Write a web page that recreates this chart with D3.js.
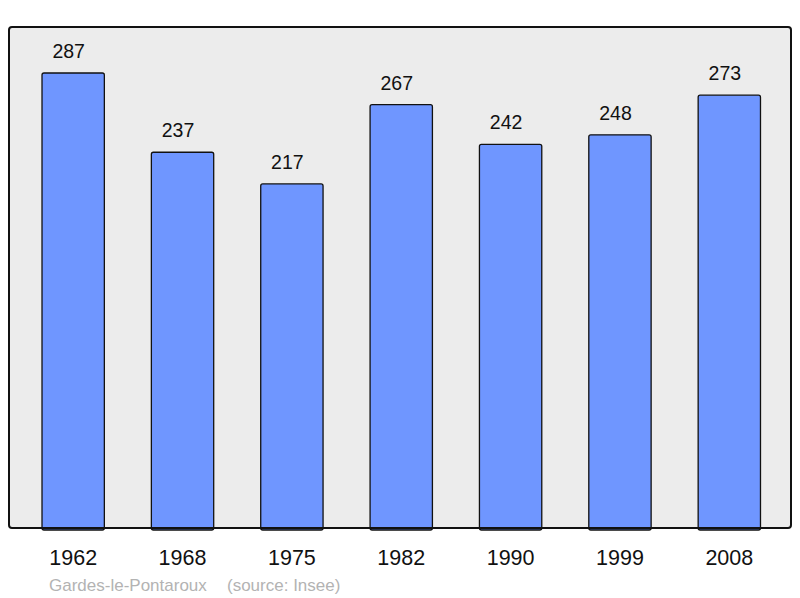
<!DOCTYPE html>
<html>
<head>
<meta charset="utf-8">
<script src="https://cdnjs.cloudflare.com/ajax/libs/d3/7.8.5/d3.min.js"></script>
<style>
  body { margin: 0; background: #fff; }
  svg text { font-family: "Liberation Sans", Arial, sans-serif; }
</style>
</head>
<body>
<div id="chart"></div>
<script>
// Data
var years       =   ["1962", "1968", "1975", "1982", "1990", "1999", "2008"];
var population  =   [287, 237, 217, 267, 242, 248, 273];
var place_name  =   "Gardes-le-Pontaroux";
var source_text =   "(source: Insee)";

// Size
var chart_width     =   800;
var chart_height    =   598;
var frame           =   { left: 9, top: 27, right: 791, bottom: 528 };

var svg             =   d3.select("#chart")
    .append("svg")
    .attr("width", chart_width)
    .attr("height", chart_height);

// Scales
var x   =   d3.scaleBand()
    .domain(years)
    .range([ 18.5, 784 ])
    .paddingInner(0.43)
    .paddingOuter(0.215);

var y   =   d3.scaleLinear()
    .domain([ 0, 316 ])
    .range([ frame.bottom, frame.top ]);

// Background frame
svg.append("rect")
    .attr("x", frame.left)
    .attr("y", frame.top)
    .attr("width", frame.right - frame.left)
    .attr("height", frame.bottom - frame.top)
    .attr("rx", 3)
    .attr("fill", "#ececec")
    .attr("stroke", "none");

// Bars
svg.selectAll("rect.bar")
    .data(population)
    .enter()
    .append("rect")
    .attr("class", "bar")
    .attr("x", function(d, i){ return x(years[i]); })
    .attr("y", function(d){ return y(d); })
    .attr("width", x.bandwidth())
    .attr("height", function(d){ return y(0) - y(d) + 2; })
    .attr("rx", 2)
    .attr("fill", "#6f96ff")
    .attr("stroke", "#111")
    .attr("stroke-width", 1.3);

// Value labels (sit a little left of bar centre, as in the original)
svg.selectAll("text.value")
    .data(population)
    .enter()
    .append("text")
    .attr("class", "value")
    .attr("x", function(d, i){ return x(years[i]) + x.bandwidth() / 2 - 4.5; })
    .attr("y", function(d){ return y(d) - 15; })
    .attr("text-anchor", "middle")
    .attr("font-size", 19.5)
    .attr("fill", "#111")
    .text(function(d){ return d; });

// Frame border on top
svg.append("rect")
    .attr("x", frame.left)
    .attr("y", frame.top)
    .attr("width", frame.right - frame.left)
    .attr("height", frame.bottom - frame.top)
    .attr("rx", 3)
    .attr("fill", "none")
    .attr("stroke", "#111")
    .attr("stroke-width", 2);

// X axis labels
var axis = svg.append("g")
    .attr("transform", "translate(0," + frame.bottom + ")")
    .call(d3.axisBottom(x).tickSize(0).tickPadding(0));

axis.select(".domain").remove();
axis.selectAll("text")
    .attr("y", 37)
    .attr("dy", 0)
    .attr("font-size", 21.5)
    .attr("font-family", "Liberation Sans, Arial, sans-serif")
    .attr("fill", "#111");

// Footer
svg.append("text")
    .attr("x", 49)
    .attr("y", 591)
    .attr("font-size", 17)
    .attr("fill", "#b3b3b3")
    .text(place_name);

svg.append("text")
    .attr("x", 227)
    .attr("y", 591)
    .attr("font-size", 17)
    .attr("fill", "#b3b3b3")
    .text(source_text);
</script>
</body>
</html>
